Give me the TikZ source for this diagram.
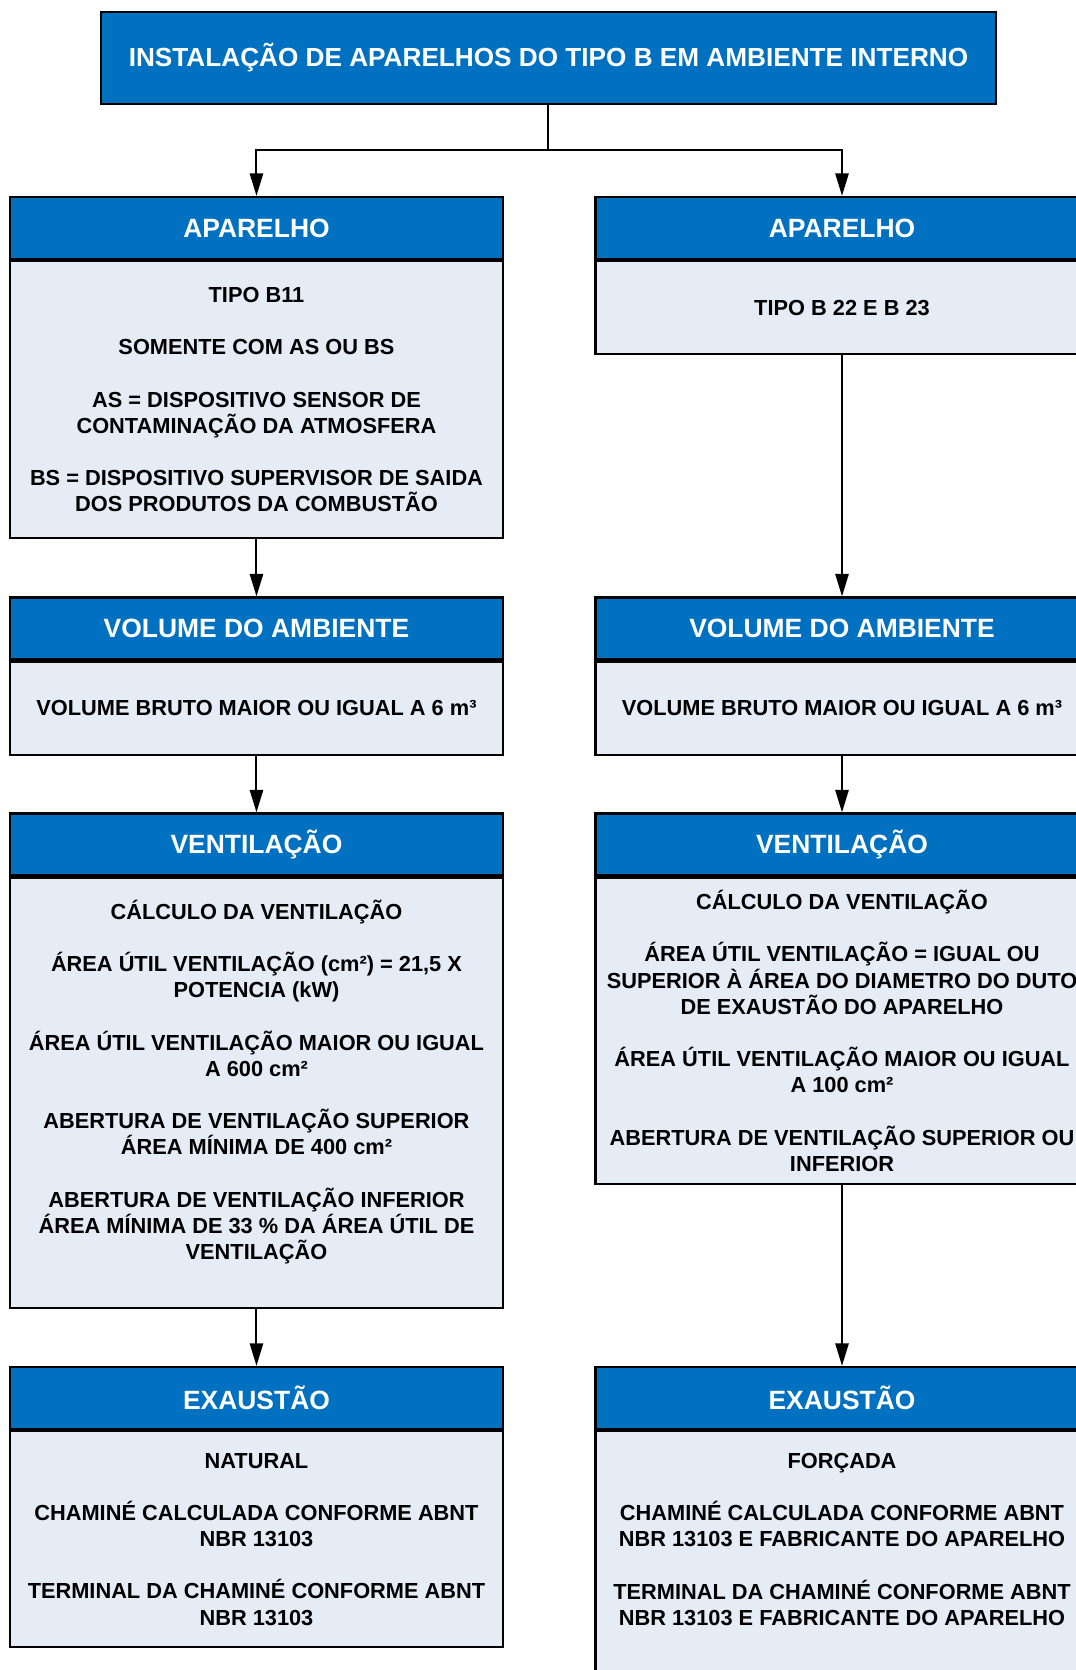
\documentclass[tikz,border=0pt]{standalone}
\usepackage{fontspec}
\setmainfont{Liberation Sans}
\usepackage{tikz}
\usetikzlibrary{positioning,arrows.meta}

\definecolor{headblue}{RGB}{0,112,192}
\definecolor{bodyblue}{RGB}{230,236,246}

\tikzset{
  head/.style={draw=black,fill=headblue,text=white,line width=1.7pt,
    minimum width=13.044cm,minimum height=1.64cm,
    font=\fontsize{19.9}{23}\selectfont\bfseries},
  body/.style={draw=black,fill=bodyblue,line width=1.7pt,
    minimum width=13.044cm,align=center,
    font=\fontsize{16.4}{19.7}\selectfont\bfseries},
  flow/.style={->,line width=1.5pt}
}

\begin{document}
\begin{tikzpicture}[>={Triangle[length=17pt,width=10pt]}]
  \useasboundingbox (0,0) rectangle (28.469,-44.185);

  % topo
  \node[head,minimum width=23.68cm,minimum height=2.434cm,font=\fontsize{19.7}{23}\selectfont\bfseries]
       (titulo) at (14.512,-1.535)
       {INSTALAÇÃO DE APARELHOS DO TIPO B EM AMBIENTE INTERNO};
  \coordinate[below=1.19cm of titulo] (split);

  % coluna esquerda
  \node[head] (aparL) at (6.786,-6.032) {APARELHO};
  \node[body,below=0pt of aparL,minimum height=7.329cm] (aparLbody)
       {TIPO B11\\[\baselineskip]
        SOMENTE COM AS OU BS\\[\baselineskip]
        AS = DISPOSITIVO SENSOR DE\\CONTAMINAÇÃO DA ATMOSFERA\\[\baselineskip]
        BS = DISPOSITIVO SUPERVISOR DE SAIDA\\DOS PRODUTOS DA COMBUSTÃO};
  \node[head] (volL) at (6.786,-16.629) {VOLUME DO AMBIENTE};
  \node[body,below=0pt of volL,minimum height=2.461cm] (volLbody)
       {VOLUME BRUTO MAIOR OU IGUAL A 6 m³};
  \node[head] (ventL) at (6.786,-22.344) {VENTILAÇÃO};
  \node[body,below=0pt of ventL,minimum height=11.377cm] (ventLbody)
       {CÁLCULO DA VENTILAÇÃO\\[\baselineskip]
        ÁREA ÚTIL VENTILAÇÃO (cm²) = 21,5 X\\POTENCIA (kW)\\[\baselineskip]
        ÁREA ÚTIL VENTILAÇÃO MAIOR OU IGUAL\\A 600 cm²\\[\baselineskip]
        ABERTURA DE VENTILAÇÃO SUPERIOR\\ÁREA MÍNIMA  DE 400 cm²\\[\baselineskip]
        ABERTURA DE VENTILAÇÃO INFERIOR\\ÁREA MÍNIMA DE 33 \% DA ÁREA ÚTIL DE\\VENTILAÇÃO\\~};
  \node[head] (exauL) at (6.786,-36.988) {EXAUSTÃO};
  \node[body,below=0pt of exauL,minimum height=5.715cm] (exauLbody)
       {NATURAL\\[\baselineskip]
        CHAMINÉ CALCULADA CONFORME ABNT\\NBR 13103\\[\baselineskip]
        TERMINAL DA CHAMINÉ CONFORME ABNT\\NBR 13103};

  % coluna direita
  \node[head] (aparR) at (22.278,-6.032) {APARELHO};
  \node[body,below=0pt of aparR,minimum height=2.461cm] (aparRbody)
       {TIPO B 22 E B 23};
  \node[head] (volR) at (22.278,-16.629) {VOLUME DO AMBIENTE};
  \node[body,below=0pt of volR,minimum height=2.461cm] (volRbody)
       {VOLUME BRUTO MAIOR OU IGUAL A 6 m³};
  \node[head] (ventR) at (22.278,-22.344) {VENTILAÇÃO};
  \node[body,below=0pt of ventR,minimum height=8.096cm] (ventRbody)
       {CÁLCULO DA VENTILAÇÃO\\[\baselineskip]
        ÁREA ÚTIL VENTILAÇÃO = IGUAL OU\\SUPERIOR À ÁREA DO DIAMETRO DO DUTO\\DE EXAUSTÃO DO APARELHO\\[\baselineskip]
        ÁREA ÚTIL VENTILAÇÃO MAIOR OU IGUAL\\A 100 cm²\\[\baselineskip]
        ABERTURA DE VENTILAÇÃO SUPERIOR OU\\INFERIOR};
  \node[head] (exauR) at (22.278,-36.988) {EXAUSTÃO};
  \node[body,below=0pt of exauR,minimum height=7.09cm] (exauRbody)
       {FORÇADA\\[\baselineskip]
        CHAMINÉ CALCULADA CONFORME ABNT\\NBR 13103 E FABRICANTE DO APARELHO\\[\baselineskip]
        TERMINAL DA CHAMINÉ CONFORME ABNT\\NBR 13103 E FABRICANTE DO APARELHO\\~\\~};

  % ligacoes
  \draw[line width=1.5pt] (titulo.south) -- (split);
  \draw[flow] (split) -| (aparL.north);
  \draw[flow] (split) -| (aparR.north);
  \draw[flow] (aparLbody.south) -- (volL.north);
  \draw[flow] (volLbody.south) -- (ventL.north);
  \draw[flow] (ventLbody.south) -- (exauL.north);
  \draw[flow] (aparRbody.south) -- (volR.north);
  \draw[flow] (volRbody.south) -- (ventR.north);
  \draw[flow] (ventRbody.south) -- (exauR.north);
\end{tikzpicture}
\end{document}
